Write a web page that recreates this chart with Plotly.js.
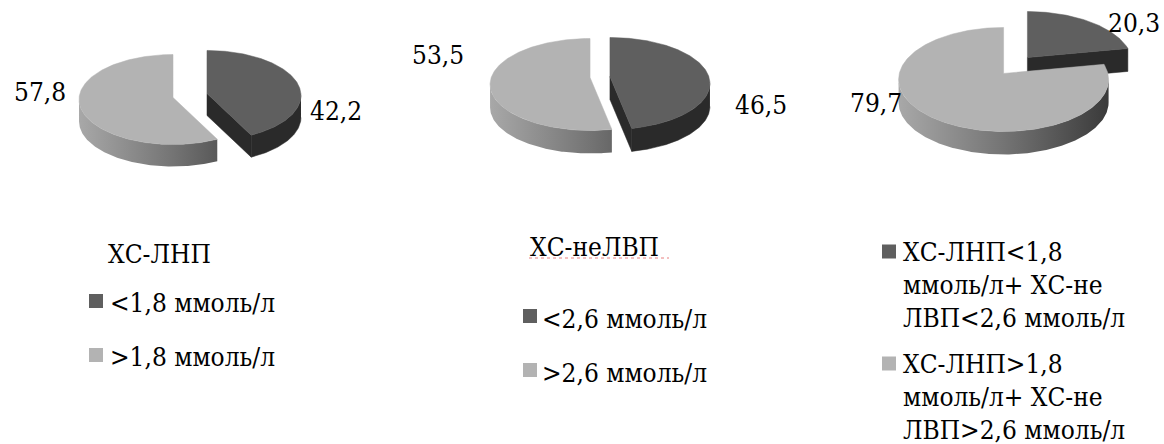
<!DOCTYPE html>
<html>
<head>
<meta charset="utf-8">
<script src="https://cdn.plot.ly/plotly-3.0.1.min.js"></script>
<style>
  html, body { margin: 0; padding: 0; background: #ffffff; }
  #chart { width: 1164px; height: 444px; }
</style>
</head>
<body>
<div id="chart"></div>
<script>
// ---- data ----
const ldlValues = [42.2, 57.8];
const nonHdlValues = [46.5, 53.5];
const combinedValues = [20.3, 79.7];

const ldlTitle = 'ХС-ЛНП';
const nonHdlTitle = 'ХС-неЛВП';
const ldlLabels = [['<1,8 ммоль/л'], ['>1,8 ммоль/л']];
const nonHdlLabels = [['<2,6 ммоль/л'], ['>2,6 ммоль/л']];
const combinedLabels = [
  ['ХС-ЛНП<1,8', 'ммоль/л+ ХС-не', 'ЛВП<2,6 ммоль/л'],
  ['ХС-ЛНП>1,8', 'ммоль/л+ ХС-не', 'ЛВП>2,6 ммоль/л']
];

// ---- styling ----
const FONT = 'DejaVu Serif Condensed';
const FS = 26;
const topColors = ['#5f5f5f', '#b3b3b3'];
const sideColors = ['#2a2a2a', null];           // null -> shaded gradient
const sideGradient = [[0, '#a8a8a8'], [0.5, '#747474'], [1, '#3a3a3a']];

// pie geometry in page pixels (y grows downward); label anchors: [x, y, xanchor]
const pies = [
  { values: ldlValues,      cx: 190,  cy: 97.5, rx: 94,  ry: 45, lift: 2, depth: 22, explode: 17.5,
    labelPos: [[308, 111, 'left'], [12, 92, 'left']],
    legend: { title: ldlTitle, titlePos: [106, 254], labels: ldlLabels,
              box: [89, 301], text: [108, 303], rowGap: 54, lineGap: 34 } },
  { values: nonHdlValues,   cx: 600,  cy: 84,   rx: 100, ry: 46, lift: 7, depth: 23, explode: 10,
    labelPos: [[733, 105, 'left'], [410, 55, 'left']],
    legend: { title: nonHdlTitle, titlePos: [528, 247], labels: nonHdlLabels,
              box: [523, 316], text: [540, 319], rowGap: 54, lineGap: 34, squiggle: true } },
  { values: combinedValues, cx: 1015.5, cy: 71.5, rx: 105, ry: 52, lift: 6, depth: 23, explode: 20,
    labelPos: [[1162, 23, 'right'], [848, 103, 'left']],
    legend: { title: null, titlePos: null, labels: combinedLabels,
              box: [882, 251.5], text: [901, 252], rowGap: 112, lineGap: 33 } }
];

const rad = d => d * Math.PI / 180;
function rimPt(c, g, th, dy) {
  return [c.x + g.rx * Math.sin(rad(th)), c.y - g.ry * Math.cos(rad(th)) + (dy || 0)];
}
function poly(pts, fill, gradient, g, c) {
  const t = {
    type: 'scatter', mode: 'lines',
    x: pts.map(p => p[0]), y: pts.map(p => p[1]),
    fill: 'toself', fillcolor: fill || '#6a6a6a',
    line: { width: gradient ? 0 : 0.5, color: fill || '#6a6a6a' },
    hoverinfo: 'skip', showlegend: false
  };
  if (gradient) {
    t.fillgradient = { type: 'horizontal', colorscale: gradient,
                       start: c.x - g.rx, stop: c.x + g.rx };
  }
  return t;
}

const traces = [];
const annotations = [];
const shapes = [];

pies.forEach(g => {
  const total = g.values.reduce((a, b) => a + b, 0);
  let acc = 0;
  const slices = g.values.map((v, i) => {
    const t1 = acc / total * 360;
    acc += v;
    const t2 = acc / total * 360;
    return { i, v, t1, t2, mid: (t1 + t2) / 2 };
  });
  // paint slices further back first
  slices.sort((a, b) => Math.cos(rad(b.mid)) - Math.cos(rad(a.mid)));

  slices.forEach(s => {
    const c = {
      x: g.cx + g.explode * Math.sin(rad(s.mid)),
      y: g.cy - g.explode * Math.cos(rad(s.mid)) * g.ry / g.rx
    };
    const apex = [c.x, c.y - g.lift];
    const d = g.depth;
    const sideFill = sideColors[s.i];
    const grad = sideFill ? null : sideGradient;

    // cut faces that turn towards the viewer
    [[s.t2, Math.sin(rad(s.t2)) > 1e-6], [s.t1, Math.sin(rad(s.t1)) < -1e-6]].forEach(([th, vis]) => {
      if (!vis) return;
      const r = rimPt(c, g, th);
      traces.push(poly([apex, r, [r[0], r[1] + d], [apex[0], apex[1] + d], apex],
                       sideFill || '#5a5a5a', grad, g, c));
    });

    // outer wall on the front half
    const a0 = Math.max(s.t1, 90), a1 = Math.min(s.t2, 270);
    if (a1 > a0) {
      const upper = [], lower = [];
      for (let th = a0; ; th = Math.min(th + 1, a1)) {
        upper.push(rimPt(c, g, th));
        lower.push(rimPt(c, g, th, d));
        if (th >= a1) break;
      }
      traces.push(poly(upper.concat(lower.reverse()), sideFill || '#777777', grad, g, c));
    }

    // top face
    const top = [apex];
    for (let th = s.t1; ; th = Math.min(th + 1, s.t2)) {
      top.push(rimPt(c, g, th));
      if (th >= s.t2) break;
    }
    top.push(apex);
    traces.push(poly(top, topColors[s.i], null, g, c));
  });

  // value labels
  g.values.forEach((v, i) => {
    annotations.push({
      x: g.labelPos[i][0], y: g.labelPos[i][1], xref: 'x', yref: 'y',
      xanchor: g.labelPos[i][2], yanchor: 'middle', showarrow: false,
      text: v.toFixed(1).replace('.', ','),
      font: { family: FONT, size: FS, color: '#000000' }
    });
  });

  // legend block
  const L = g.legend;
  if (L.title) {
    annotations.push({
      x: L.titlePos[0], y: L.titlePos[1], xref: 'x', yref: 'y',
      xanchor: 'left', yanchor: 'middle', showarrow: false, text: L.title,
      font: { family: FONT, size: FS, color: '#000000' }
    });
    if (L.squiggle) {
      shapes.push({ type: 'line', xref: 'x', yref: 'y',
        x0: L.titlePos[0] + 1, x1: L.titlePos[0] + 141, y0: L.titlePos[1] + 11, y1: L.titlePos[1] + 11,
        line: { color: '#e88080', width: 1, dash: 'dot' } });
    }
  }
  L.labels.forEach((lines, i) => {
    const by = L.box[1] + i * L.rowGap;
    shapes.push({ type: 'rect', xref: 'x', yref: 'y',
      x0: L.box[0], x1: L.box[0] + 14, y0: by - 7, y1: by + 7,
      fillcolor: topColors[i], line: { width: 0 } });
    lines.forEach((ln, k) => {
      annotations.push({
        x: L.text[0], y: L.text[1] + i * L.rowGap + k * L.lineGap, xref: 'x', yref: 'y',
        xanchor: 'left', yanchor: 'middle', showarrow: false, text: ln,
        font: { family: FONT, size: FS, color: '#000000' }
      });
    });
  });
});

const layout = {
  width: 1164, height: 444,
  margin: { l: 0, r: 0, t: 0, b: 0 },
  paper_bgcolor: '#ffffff', plot_bgcolor: '#ffffff',
  showlegend: false,
  font: { family: FONT },
  xaxis: { range: [0, 1164], visible: false, fixedrange: true },
  yaxis: { range: [444, 0], visible: false, fixedrange: true },
  annotations, shapes
};

Plotly.newPlot('chart', traces, layout, { staticPlot: true, displayModeBar: false });
</script>
</body>
</html>
